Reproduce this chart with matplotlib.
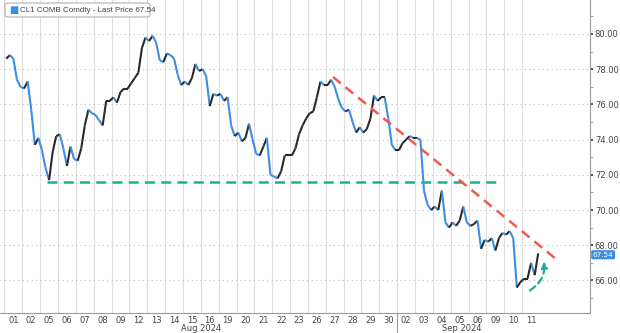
"""
WTI crude (CL1 COMB Comdty) intraday, Aug - Sep 2024
"""
import numpy as np
import matplotlib
matplotlib.use('Agg')
import matplotlib.pyplot as plt
from matplotlib.collections import LineCollection
from matplotlib.patches import FancyArrowPatch, FancyBboxPatch

# trading days shown on the axis
day_labels = ['01', '02', '05', '06', '07', '08', '09', '12', '13', '14', '15',
              '16', '19', '20', '21', '22', '23', '26', '27', '28', '29', '30',
              '02', '03', '04', '05', '06', '09', '10', '11']
month_labels = ['Aug 2024', 'Sep 2024']
month_pos = [11.0, 25.6]

# 5 intraday prices per trading day
prices = [
    78.6, 78.8, 78.6, 77.4, 77.0,   # Aug 01
    76.9, 77.3, 75.7, 73.7, 74.1,   # Aug 02
    73.4, 72.4, 71.7, 73.3, 74.2,   # Aug 05
    74.3, 73.5, 72.5, 73.6, 72.9,   # Aug 06
    72.8, 73.5, 74.8, 75.7, 75.5,   # Aug 07
    75.4, 75.1, 74.8, 76.2, 76.2,   # Aug 08
    76.4, 76.1, 76.7, 76.9, 76.9,   # Aug 09
    77.2, 77.5, 77.8, 79.2, 79.8,   # Aug 12
    79.6, 79.9, 79.5, 78.5, 78.4,   # Aug 13
    78.9, 78.8, 78.6, 77.7, 77.1,   # Aug 14
    77.3, 77.1, 77.5, 78.3, 77.9,   # Aug 15
    78.0, 77.6, 75.9, 76.6, 76.5,   # Aug 16
    76.6, 76.2, 76.4, 74.8, 74.2,   # Aug 19
    74.4, 73.9, 74.1, 74.9, 74.0,   # Aug 20
    73.2, 73.1, 73.6, 74.1, 72.0,   # Aug 21
    71.9, 71.8, 72.2, 73.1, 73.1,   # Aug 22
    73.1, 73.5, 74.3, 74.8, 75.2,   # Aug 23
    75.5, 75.6, 76.4, 77.3, 77.1,   # Aug 26
    77.1, 77.4, 77.0, 76.3, 75.8,   # Aug 27
    75.6, 75.7, 75.0, 74.4, 74.7,   # Aug 28
    74.4, 74.6, 75.2, 76.5, 76.2,   # Aug 29
    76.4, 76.4, 75.2, 73.7, 73.4,   # Aug 30
    73.4, 73.8, 74.0, 74.2, 74.1,   # Sep 02
    74.1, 74.0, 71.1, 70.3, 70.0,   # Sep 03
    70.2, 70.0, 71.1, 69.3, 69.0,   # Sep 04
    69.3, 69.1, 69.4, 70.2, 69.3,   # Sep 05
    69.1, 69.2, 69.4, 67.8, 68.3,   # Sep 06
    68.2, 68.4, 67.7, 68.4, 68.7,   # Sep 09
    68.6, 68.8, 68.4, 65.6, 65.9,   # Sep 10
    66.1, 66.1, 67.0, 66.3, 67.54,  # Sep 11
]
last_price = 67.54

# support / resistance drawn on the chart
support_level = 71.6
support_days = [2.4, 27.7]
resist_days = [18.4, 31.1]
resist_vals = [77.56, 67.05]
bounce_days = [29.3, 30.2]
bounce_vals = [65.35, 67.25]

blue = '#3d8ee3'
dark = '#2a2a2a'
green = '#1cb08c'
red = '#f25a50'
gridc = '#dedede'
textc = '#444444'

per_day = 5
x = np.arange(len(prices)) / per_day + 0.5 / per_day
y = np.array(prices)

fig = plt.figure(figsize=(6.2, 3.33), dpi=100)
ax = fig.add_axes([0.0, 0.06, 590 / 620, 0.94])

ax.set_xlim(-0.25, 32.8)
ax.set_ylim(64.15, 81.93)

# grid: solid day separators, dotted price levels
for d in range(len(day_labels)):
    ax.axvline(d, color=gridc, lw=0.8, zorder=0)
for v in range(66, 81, 2):
    ax.axhline(v, color='#bdbdbd', lw=0.8, ls=(0, (1, 3)), zorder=0)

# price line, blue when falling, dark when rising
pts = np.column_stack([x, y]).reshape(-1, 1, 2)
segs = np.concatenate([pts[:-1], pts[1:]], axis=1)
cols = [blue if b < a else dark for a, b in zip(y[:-1], y[1:])]
ax.add_collection(LineCollection(segs, colors=cols, linewidths=1.5, zorder=3))

# annotations
ax.plot(support_days, [support_level, support_level], color=green, lw=1.8,
        ls=(0, (4, 2.5)), zorder=4)
ax.plot(resist_days, resist_vals, color=red, lw=1.8, ls=(0, (4, 2.5)), zorder=4)
arr = FancyArrowPatch((bounce_days[0], bounce_vals[0]), (bounce_days[1], bounce_vals[1]),
                      connectionstyle='arc3,rad=0.35', arrowstyle='-|>', mutation_scale=9,
                      color=green, lw=1.6, ls=(0, (3, 2)), zorder=5)
ax.add_patch(arr)

# spines
for s in ['top', 'left']:
    ax.spines[s].set_visible(False)
ax.spines['right'].set_color('#9a9a9a')
ax.spines['bottom'].set_color('#9a9a9a')

# y axis on the right
ax.yaxis.tick_right()
ax.set_yticks(np.arange(66, 81, 2))
ax.set_yticklabels(['%.2f' % v for v in np.arange(66, 81, 2)])
ax.set_yticks(np.arange(65, 82, 2), minor=True)
ax.tick_params(axis='y', which='major', length=2.5, width=1.2, color='#333333',
               labelsize=6, labelcolor=textc, pad=1)
ax.tick_params(axis='y', which='minor', length=2, width=0.6, color='#9a9a9a')

# x axis: day labels centred in each day
ax.set_xticks(np.arange(len(day_labels)) + 0.5)
ax.set_xticklabels(day_labels)
ax.tick_params(axis='x', length=0, labelsize=6, labelcolor=textc, pad=2)
for lab, p in zip(month_labels, month_pos):
    ax.text(p, -0.05, lab, transform=ax.get_xaxis_transform(), ha='center',
            va='center', fontsize=6, color=textc)
# month separator
ax.plot([22, 22], [0, -0.066], transform=ax.get_xaxis_transform(), color='#9a9a9a',
        lw=0.8, clip_on=False)

# legend box
box = FancyBboxPatch((5 / 620, 1 - 17 / 333), 145 / 620, 14 / 333,
                     boxstyle='round,pad=0,rounding_size=0.006', transform=fig.transFigure,
                     fc='white', ec='#b0b0b0', lw=0.8, zorder=10)
fig.patches.append(box)
fig.text(9 / 620, 1 - 10 / 333, '\u25a0', color=blue, fontsize=7, va='center', ha='left',
         zorder=11)
fig.text(20 / 620, 1 - 10 / 333, 'CL1 COMB Comdty - Last Price %.2f' % last_price,
         color=textc, fontsize=5.8, family='Liberation Sans', va='center', ha='left',
         zorder=11)

# last price tag
ax.annotate('%.2f' % last_price, xy=(1.0, last_price), xycoords=('axes fraction', 'data'),
            xytext=(2, -1), textcoords='offset points', fontsize=5.2, color='white',
            va='center', ha='left',
            bbox=dict(boxstyle='round,pad=0.12', fc=blue, ec=blue))

fig.savefig('out.png', dpi=100)
